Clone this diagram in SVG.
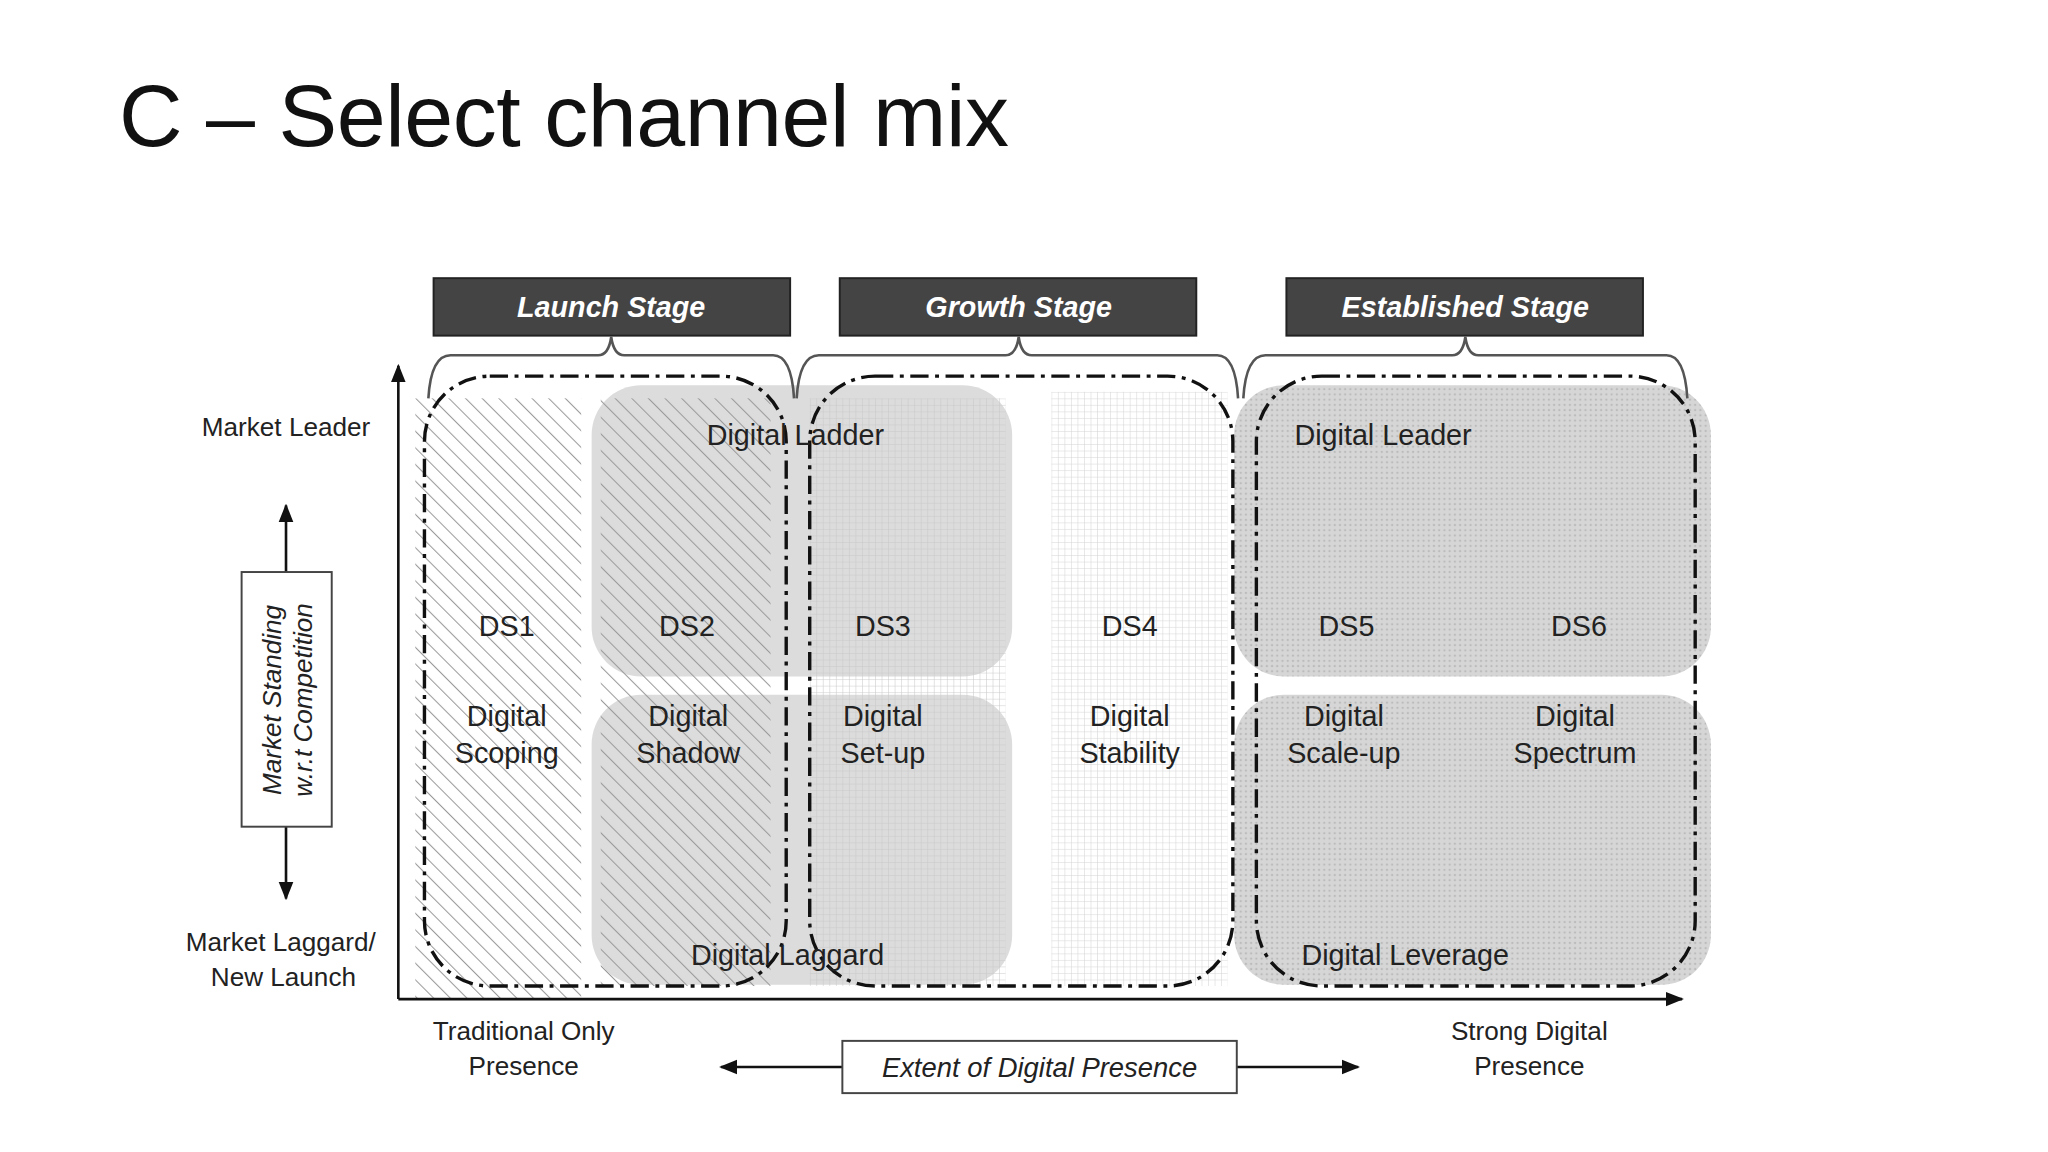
<svg xmlns="http://www.w3.org/2000/svg" width="2048" height="1152" viewBox="0 0 2048 1152">
<style>
.t{font-family:"Liberation Sans",Arial,sans-serif;fill:#222;text-anchor:middle}
.l{font-size:22px}
.stg{font-family:"Liberation Sans",Arial,sans-serif;fill:#fff;font-size:22px;font-weight:bold;font-style:italic;text-anchor:middle}
.sbox{fill:#444;stroke:#222;stroke-width:1.5}
.brace{fill:none;stroke:#555;stroke-width:2}
.dd{fill:none;stroke:#111;stroke-width:2.6;stroke-dasharray:14 5 3 5}
.ax{stroke:#111;stroke-width:2;fill:none}
.g{fill:#dcdcdc}
</style>
<defs>
<pattern id="hatch" width="9" height="9" patternUnits="userSpaceOnUse" patternTransform="rotate(-45)"><line x1="0" y1="0" x2="0" y2="9" stroke="#9a9a9a" stroke-width="1.6"/></pattern>
<pattern id="grid" width="5" height="5" patternUnits="userSpaceOnUse"><path d="M0 0H5M0 0V5" stroke="#c8c8c8" stroke-width="0.8" fill="none"/></pattern>
<pattern id="dots" width="4" height="4" patternUnits="userSpaceOnUse"><rect width="4" height="4" fill="#d6d6d6"/><circle cx="2" cy="2" r="0.9" fill="#bbb"/></pattern>
<marker id="ah" viewBox="0 0 10 10" refX="9" refY="5" markerWidth="7" markerHeight="7" orient="auto-start-reverse"><path d="M0 1L10 5L0 9z" fill="#111"/></marker>
</defs>
<rect width="2048" height="1152" fill="#fff"/>
<text x="119" y="146" font-family="'Liberation Sans',Arial,sans-serif" font-size="88" fill="#111" textLength="890">C – Select channel mix</text>
<g transform="scale(1.306)">
<g id="backgrounds">
<rect x="318" y="305" width="127" height="460" fill="url(#hatch)"/>
<rect x="453" y="295" width="322" height="223" rx="38" class="g"/>
<rect x="453" y="532" width="322" height="222" rx="38" class="g"/>
<rect x="460" y="305" width="130" height="450" fill="url(#hatch)"/>
<rect x="620" y="305" width="150" height="450" fill="url(#grid)"/>
<rect x="805" y="300" width="135" height="455" fill="url(#grid)" opacity="0.8"/>
<rect x="945" y="295" width="365" height="223" rx="38" fill="url(#dots)"/>
<rect x="945" y="532" width="365" height="222" rx="38" fill="url(#dots)"/>
</g>
<g id="connectors">
<line x1="305" y1="765" x2="305" y2="280" class="ax" marker-end="url(#ah)"/>
<line x1="305" y1="765" x2="1288" y2="765" class="ax" marker-end="url(#ah)"/>
<line x1="219" y1="438" x2="219" y2="387" class="ax" marker-end="url(#ah)"/>
<line x1="219" y1="633" x2="219" y2="688" class="ax" marker-end="url(#ah)"/>
<line x1="645" y1="817" x2="552" y2="817" class="ax" marker-end="url(#ah)"/>
<line x1="947" y1="817" x2="1040" y2="817" class="ax" marker-end="url(#ah)"/>
<path class="brace" d="M328 305Q330 272 345 272H458Q466 272 468 258Q470 272 478 272H592Q606 272 608 305"/>
<path class="brace" d="M610 305Q612 272 627 272H770Q778 272 780 258Q782 272 790 272H932Q946 272 948 305"/>
<path class="brace" d="M952 305Q954 272 969 272H1112Q1120 272 1122 258Q1124 272 1132 272H1276Q1290 272 1292 305"/>
</g>
<g id="launch"><rect x="332" y="213" width="273" height="44" class="sbox"/><text x="468" y="243" class="stg">Launch Stage</text>
<rect x="325" y="288" width="277" height="467" rx="50" class="dd"/></g>
<g id="growth"><rect x="643" y="213" width="273" height="44" class="sbox"/><text x="780" y="243" class="stg">Growth Stage</text>
<rect x="620" y="288" width="324" height="467" rx="50" class="dd"/></g>
<g id="established"><rect x="985" y="213" width="273" height="44" class="sbox"/><text x="1122" y="243" class="stg">Established Stage</text>
<rect x="962" y="288" width="336" height="467" rx="50" class="dd"/></g>
<g id="labels" class="t l">
<text x="609" y="341">Digital Ladder</text>
<text x="1059" y="341">Digital Leader</text>
<text x="603" y="739">Digital Laggard</text>
<text x="1076" y="739">Digital Leverage</text>
<text x="388" y="487">DS1</text><text x="526" y="487">DS2</text><text x="676" y="487">DS3</text>
<text x="865" y="487">DS4</text><text x="1031" y="487">DS5</text><text x="1209" y="487">DS6</text>
<text x="388" y="556">Digital</text><text x="388" y="584">Scoping</text>
<text x="527" y="556">Digital</text><text x="527" y="584">Shadow</text>
<text x="676" y="556">Digital</text><text x="676" y="584">Set-up</text>
<text x="865" y="556">Digital</text><text x="865" y="584">Stability</text>
<text x="1029" y="556">Digital</text><text x="1029" y="584">Scale-up</text>
<text x="1206" y="556">Digital</text><text x="1206" y="584">Spectrum</text>
</g>
<g id="yaxis" class="t" font-size="20">
<text x="219" y="334">Market Leader</text>
<text x="215" y="728">Market Laggard/</text>
<text x="217" y="755">New Launch</text>
<rect x="185" y="438" width="69" height="195" fill="#fff" stroke="#444" stroke-width="1.5"/>
<g transform="translate(219 536) rotate(-90)" font-style="italic"><text x="0" y="-4">Market Standing</text><text x="0" y="20">w.r.t Competition</text></g>
</g>
<g id="xaxis" class="t" font-size="20">
<text x="401" y="796">Traditional Only</text><text x="401" y="823">Presence</text>
<text x="1171" y="796">Strong Digital</text><text x="1171" y="823">Presence</text>
<rect x="645" y="797" width="302" height="40" fill="#fff" stroke="#444" stroke-width="1.5"/>
<text x="796" y="825" font-style="italic" font-size="21">Extent of Digital Presence</text>
</g>
</g>
</svg>
